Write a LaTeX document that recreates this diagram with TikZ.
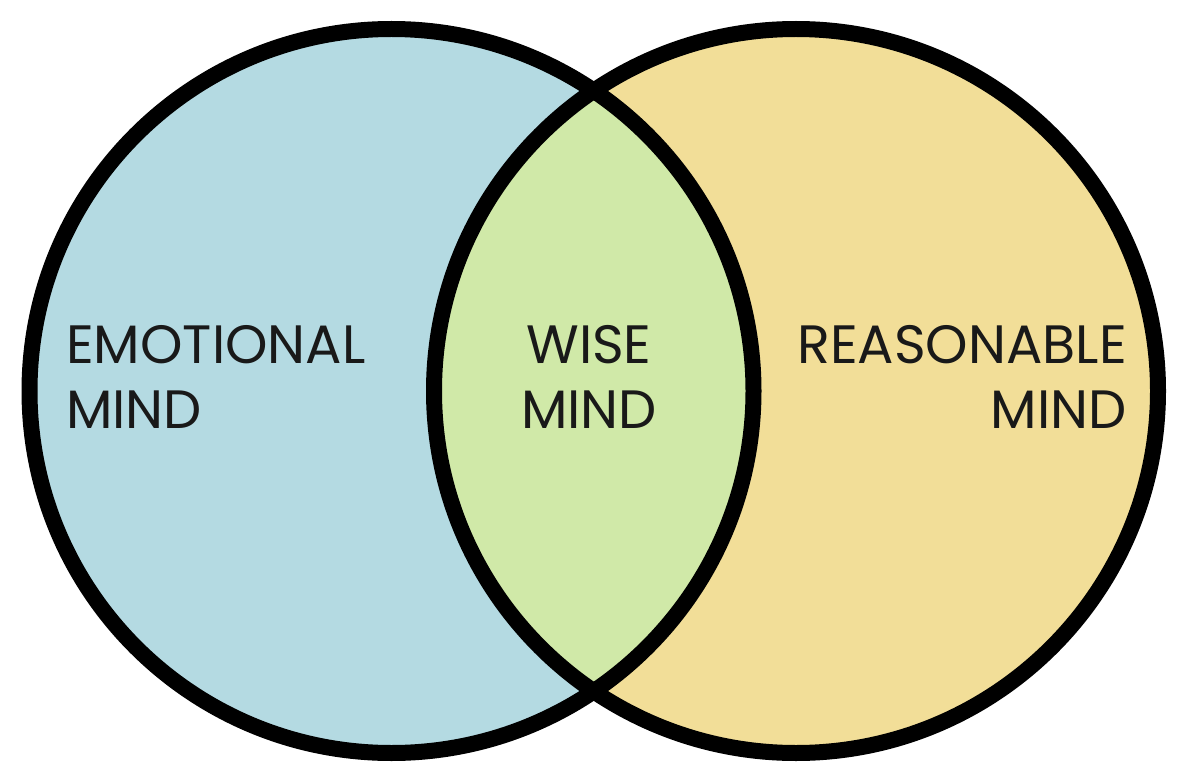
\documentclass[tikz,border=0pt]{standalone}
\usepackage{fontspec}
\setmainfont{Poppins}
\definecolor{emoblue}{RGB}{180,218,226}
\definecolor{reayellow}{RGB}{242,222,152}
\definecolor{wisegreen}{RGB}{208,233,168}
\tikzset{
  ring/.style={draw=black, line width=16pt},
  label/.style={inner sep=0pt, font=\fontsize{54}{65}\selectfont, text=black!90}
}
\begin{document}
\begin{tikzpicture}[x=1pt,y=-1pt]
\useasboundingbox (0,0) rectangle (1189,778);
\coordinate (cl) at (391.5,391);
\coordinate (cr) at (796,391);
\fill[emoblue] (cl) circle[radius=362];
\fill[reayellow] (cr) circle[radius=362];
\begin{scope}
  \clip (cl) circle[radius=362];
  \fill[wisegreen] (cr) circle[radius=362];
\end{scope}
\draw[ring] (cl) circle[radius=362];
\draw[ring] (cr) circle[radius=362];
\node[label, anchor=base west, align=left] (emo) at (66,428) {EMOTIONAL\\MIND};
\node[label, anchor=base, align=center] (wise) at (589,428) {WISE\\MIND};
\node[label, anchor=base east, align=right] (rea) at (1127,428) {REASONABLE\\MIND};
\end{tikzpicture}
\end{document}
